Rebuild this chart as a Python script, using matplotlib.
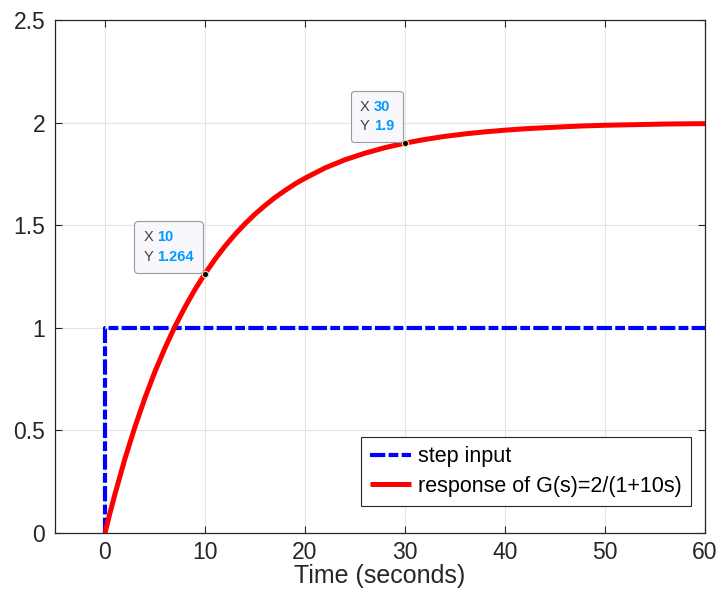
import matplotlib
matplotlib.use("Agg")
import matplotlib.pyplot as plt
from matplotlib.offsetbox import TextArea, HPacker, VPacker, AnnotationBbox

plt.rcParams['font.family'] = ['Liberation Sans', 'DejaVu Sans']
plt.rcParams['lines.scale_dashes'] = False

# Step input
step_t = [0, 0, 60]
step_u = [0, 1, 1]

# Response of G(s)=2/(1+10s)
resp_t = [0, 0.5, 1, 2, 3, 4, 5, 6, 7, 8, 9, 10, 11, 12, 13, 14, 15, 16, 17, 18, 19, 20,
          22, 24, 26, 28, 30, 32, 34, 36, 38, 40, 42, 44, 46, 48, 50, 52, 54, 56, 58, 60]
resp_y = [0.0, 0.098, 0.190, 0.363, 0.518, 0.659, 0.787, 0.902, 1.007, 1.101, 1.187,
          1.264, 1.334, 1.398, 1.455, 1.507, 1.554, 1.596, 1.635, 1.669, 1.701, 1.729,
          1.779, 1.819, 1.851, 1.878, 1.900, 1.918, 1.933, 1.945, 1.955,
          1.963, 1.970, 1.975, 1.980, 1.984, 1.987, 1.989, 1.991, 1.993, 1.994, 1.995]

# Data tips
tip_x = [10, 30]
tip_y = [1.264, 1.9]
tip_xlabels = ["10", "30"]
tip_ylabels = ["1.264", "1.9"]

xticks = [0, 10, 20, 30, 40, 50, 60]
yticks = [0, 0.5, 1, 1.5, 2, 2.5]
ytick_labels = ["0", "0.5", "1", "1.5", "2", "2.5"]

fig = plt.figure(figsize=(7.19, 5.99), dpi=100)
ax = fig.add_axes([55/719, 1-533/599, 650/719, 513/599])

dark = '#262626'
ax.plot(step_t, step_u, color='blue', lw=3.0, dashes=(11, 2.4, 7, 2.4),
        dash_capstyle='butt', label='step input', zorder=3)
ax.plot(resp_t, resp_y, color='red', lw=3.6, solid_capstyle='butt',
        solid_joinstyle='round', label='response of G(s)=2/(1+10s)', zorder=4)

ax.set_xlim(-5, 60)
ax.set_ylim(0, 2.5)
ax.set_xticks(xticks)
ax.set_yticks(yticks)
ax.set_yticklabels(ytick_labels)
ax.grid(True, color='#e3e3e3', lw=0.8)
ax.set_axisbelow(True)
ax.tick_params(direction='in', length=5, width=0.8, colors=dark,
               labelsize=16.5, top=True, right=True, pad=7)
ax.tick_params(axis='x', pad=6)
for s in ax.spines.values():
    s.set_color(dark)
    s.set_linewidth(0.9)
ax.set_xlabel('Time (seconds)', fontsize=18, color=dark, labelpad=0)

leg = ax.legend(loc='lower right', bbox_to_anchor=(0.9785, 0.052), fontsize=15.5,
                frameon=True, fancybox=False, handlelength=1.9, handletextpad=0.3,
                borderpad=0.45, labelspacing=0.38, borderaxespad=0)
leg.get_frame().set_edgecolor(dark)
leg.get_frame().set_linewidth(0.8)
leg.get_frame().set_alpha(1)

for xv, yv, xl, yl in zip(tip_x, tip_y, tip_xlabels, tip_ylabels):
    ax.plot([xv], [yv], 'o', ms=4.5, mfc='black', mec='#f0e0a0', mew=0.8, zorder=6)
    row1 = HPacker(children=[TextArea("X", textprops=dict(color='#404040', fontsize=10.5)),
                             TextArea(xl, textprops=dict(color='#0099ff', fontsize=10.5, fontweight='bold'))],
                   align='baseline', pad=0, sep=3)
    row2 = HPacker(children=[TextArea("Y", textprops=dict(color='#404040', fontsize=10.5)),
                             TextArea(yl, textprops=dict(color='#0099ff', fontsize=10.5, fontweight='bold'))],
                   align='baseline', pad=0, sep=3)
    box = VPacker(children=[row1, row2], align='left', pad=0, sep=4)
    ab = AnnotationBbox(box, (xv, yv), xybox=(-8, 7), xycoords='data',
                        boxcoords='offset points', box_alignment=(1, 0),
                        frameon=True, pad=0.65,
                        bboxprops=dict(boxstyle='round,pad=0.65,rounding_size=0.25',
                                       fc='#f8f8fc', ec='#9a9a9a', lw=0.8),
                        zorder=5)
    ax.add_artist(ab)

fig.savefig('out.png', dpi=100)
